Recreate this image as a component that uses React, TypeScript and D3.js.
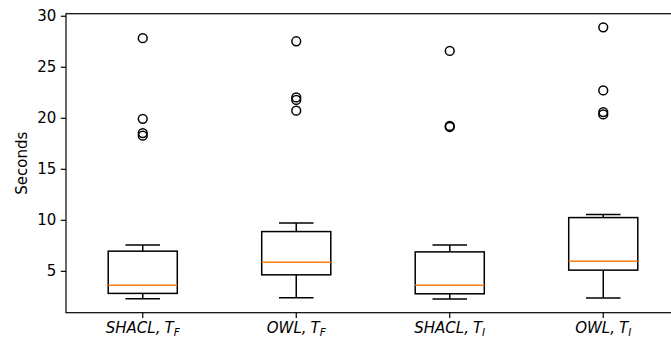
import React, { useEffect, useRef } from "react";
import * as d3 from "d3";

// box plot data
const labelMain = ["SHACL", "OWL", "SHACL", "OWL"];
const labelSub = ["F", "F", "I", "I"];
const whiskLow = [2.26, 2.36, 2.23, 2.33];
const q1 = [2.79, 4.61, 2.75, 5.07];
const medians = [3.6, 5.85, 3.6, 5.95];
const q3 = [6.93, 8.85, 6.86, 10.22];
const whiskHigh = [7.53, 9.7, 7.54, 10.52];
const outliers = [
    [18.25, 18.5, 19.9, 27.8],
    [20.7, 21.75, 22.0, 27.5],
    [19.1, 19.2, 26.55],
    [20.33, 20.56, 22.68, 28.87]
];
const yTicks = [5, 10, 15, 20, 25, 30];

export default function App() {
    const svgRef = useRef<SVGSVGElement | null>(null);

    useEffect(() => {
        const svg = d3.select(svgRef.current);
        svg.selectAll("*").remove();

        const width = 671;
        const height = 339;
        const margin = { top: 13.7, right: -9, bottom: 26.3, left: 66 };
        const font = "DejaVu Sans, sans-serif";
        const fs = 15;
        const tick = 5.2;
        const lw = 1.5;

        // matplotlib style 5% padding round the data
        const allVals = [...whiskLow, ...whiskHigh, ...outliers.flat()];
        const lo = d3.min(allVals) as number;
        const hi = d3.max(allVals) as number;
        const pad = (hi - lo) * 0.05;

        const x = d3.scaleLinear()
            .domain([0.5, labelMain.length + 0.5])
            .range([margin.left, width - margin.right]);

        const y = d3.scaleLinear()
            .domain([lo - pad, hi + pad])
            .range([height - margin.bottom, margin.top]);

        const boxW = x(1.45) - x(1);
        const capW = boxW / 2;
        const g = svg.append("g");

        labelMain.forEach((_, i) => {
            const cx = x(i + 1);
            //whiskers
            g.append("line").attr("x1", cx).attr("x2", cx)
                .attr("y1", y(q1[i])).attr("y2", y(whiskLow[i]))
                .attr("stroke", "#000").attr("stroke-width", lw);
            g.append("line").attr("x1", cx).attr("x2", cx)
                .attr("y1", y(q3[i])).attr("y2", y(whiskHigh[i]))
                .attr("stroke", "#000").attr("stroke-width", lw);
            //caps
            [whiskLow[i], whiskHigh[i]].forEach((v) => {
                g.append("line").attr("x1", cx - capW / 2).attr("x2", cx + capW / 2)
                    .attr("y1", y(v)).attr("y2", y(v))
                    .attr("stroke", "#000").attr("stroke-width", lw);
            });
            //box
            g.append("rect")
                .attr("x", cx - boxW / 2).attr("width", boxW)
                .attr("y", y(q3[i])).attr("height", y(q1[i]) - y(q3[i]))
                .attr("fill", "none").attr("stroke", "#000").attr("stroke-width", lw);
            //median
            g.append("line").attr("x1", cx - boxW / 2).attr("x2", cx + boxW / 2)
                .attr("y1", y(medians[i])).attr("y2", y(medians[i]))
                .attr("stroke", "#ff7f0e").attr("stroke-width", lw);
            //fliers
            outliers[i].forEach((v) => {
                g.append("circle").attr("cx", cx).attr("cy", y(v)).attr("r", 4.4)
                    .attr("fill", "none").attr("stroke", "#000").attr("stroke-width", lw);
            });
        });

        //y axis
        const yAxis = svg.append("g")
            .attr("transform", `translate(${margin.left},0)`)
            .call(d3.axisLeft(y).tickValues(yTicks).tickSize(tick).tickPadding(4.5));
        yAxis.select(".domain").remove();
        yAxis.selectAll("line").attr("stroke", "#000").attr("stroke-width", 1.2);
        yAxis.selectAll("text").attr("font-family", font).attr("font-size", fs).attr("fill", "#000");

        //x ticks with math style labels
        labelMain.forEach((m, i) => {
            const cx = x(i + 1);
            svg.append("line").attr("x1", cx).attr("x2", cx)
                .attr("y1", y.range()[0]).attr("y2", y.range()[0] + tick)
                .attr("stroke", "#000").attr("stroke-width", 1.2);
            const t = svg.append("text")
                .attr("x", cx).attr("y", y.range()[0] + 20.5)
                .attr("text-anchor", "middle")
                .attr("font-family", font).attr("font-size", fs)
                .attr("font-style", "italic").attr("fill", "#000");
            t.append("tspan").text(m + ",");
            t.append("tspan").attr("dx", 4).text("T");
            t.append("tspan").attr("font-size", fs * 0.7).attr("dy", 3).text(labelSub[i]);
        });

        //frame
        svg.append("rect")
            .attr("x", margin.left).attr("y", margin.top)
            .attr("width", width - margin.right - margin.left)
            .attr("height", height - margin.bottom - margin.top)
            .attr("fill", "none").attr("stroke", "#000").attr("stroke-width", 1.2);

        svg.append("text")
            .attr("transform", `translate(26.5,${(margin.top + height - margin.bottom) / 2}) rotate(-90)`)
            .attr("text-anchor", "middle")
            .attr("font-family", font).attr("font-size", fs).attr("fill", "#000")
            .text("Seconds");
    }, []);

    return (
        <div style={{ position: "absolute", left: 0, top: 0 }}>
            <svg ref={svgRef} width={671} height={339} style={{ display: "block", background: "#fff" }}></svg>
        </div>
    );
}
